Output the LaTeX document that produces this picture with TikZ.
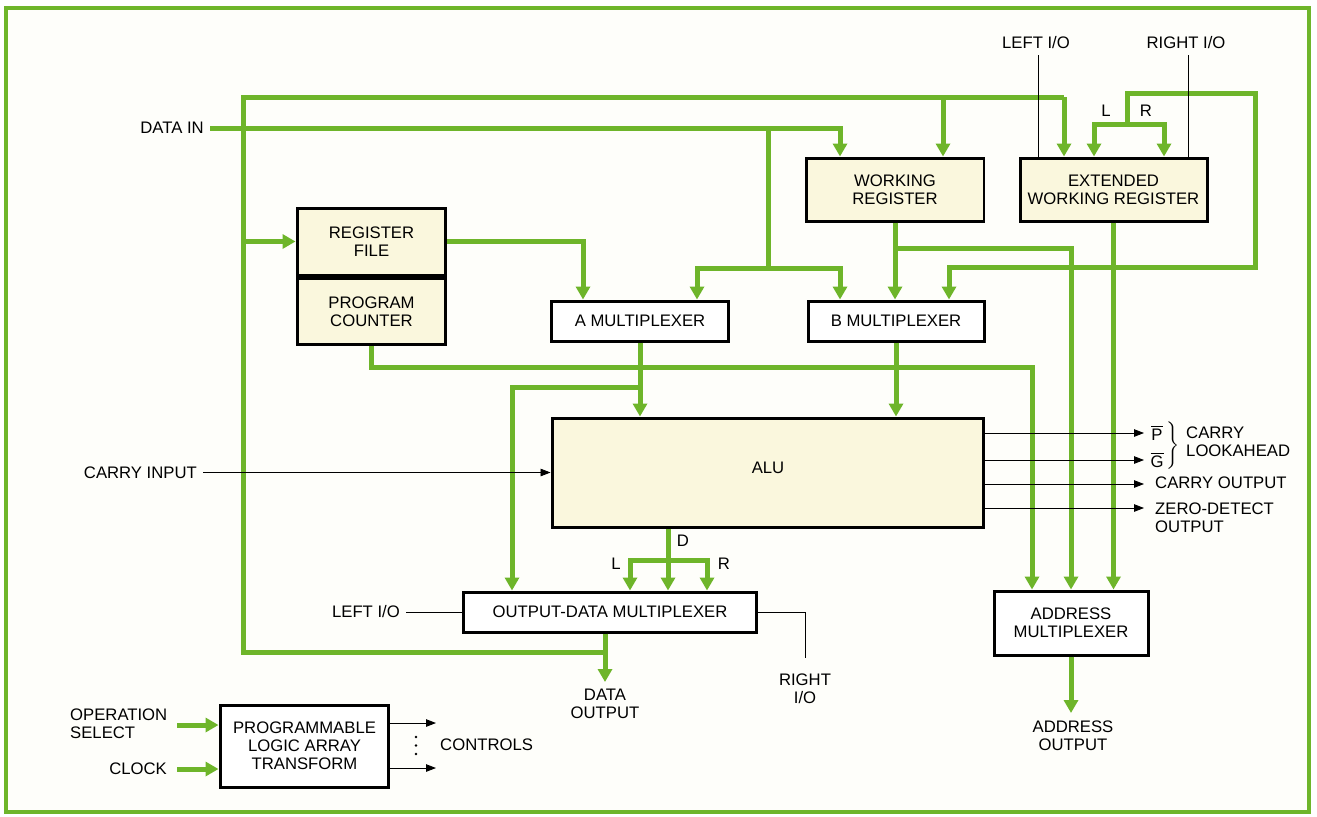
\documentclass[tikz,border=0pt]{standalone}
\usepackage{amsmath}
\usepackage{fontspec}
\setmainfont{Liberation Sans}
\usepackage{xcolor}
\usetikzlibrary{arrows.meta, positioning}

\definecolor{busgreen}{RGB}{110,181,42}
\definecolor{cream}{RGB}{250,247,221}
\definecolor{paper}{RGB}{254,254,250}

\begin{document}
\begin{tikzpicture}[
            x=0.02cm, y=-0.02cm,
            font=\fontsize{9.5}{10.2}\selectfont,
            reg_box/.style={
                draw, line width=0.06cm, fill=cream,
                inner sep=0pt, align=center
            },
            mux_box/.style={
                draw, line width=0.06cm, fill=white,
                inner sep=0pt, align=center
            },
            bus/.style={draw=busgreen, line width=0.1cm},
            bus_arrow/.style={bus, -{Triangle[length=0.26cm, width=0.28cm]}},
            wire/.style={draw=black, line width=0.5pt},
            wire_arrow/.style={wire, -{Triangle[length=0.2cm, width=0.15cm]}}
        ]
            \useasboundingbox (0,0) rectangle (1317,816);
            \draw[draw=busgreen, line width=0.08cm, fill=paper] (6,8) rectangle (1309,812);

            % Blocos
            \node[reg_box, minimum width=2.98cm, minimum height=1.34cm] (rf) at (371.5,241.5) {REGISTER\\FILE};
            \node[reg_box, minimum width=2.98cm, minimum height=1.34cm, below=0cm of rf] (pc) {PROGRAM\\COUNTER};
            \node[reg_box, minimum width=3.56cm, minimum height=1.26cm] (wr) at (895,189.5) {WORKING\\REGISTER};
            \node[reg_box, minimum width=3.74cm, minimum height=1.26cm] (ewr) at (1113.5,189.5) {EXTENDED\\WORKING REGISTER};
            \node[mux_box, minimum width=3.56cm, minimum height=0.8cm] (amux) at (640,321) {A MULTIPLEXER};
            \node[mux_box, minimum width=3.52cm, minimum height=0.8cm] (bmux) at (896,321) {B MULTIPLEXER};
            \node[reg_box, minimum width=8.64cm, minimum height=2.18cm] (alu) at (768,472.5) {\raisebox{0.2cm}{ALU}};
            \node[mux_box, minimum width=5.88cm, minimum height=0.8cm] (odm) at (610,612) {OUTPUT-DATA MULTIPLEXER};
            \node[mux_box, minimum width=3.08cm, minimum height=1.28cm] (am) at (1071,623) {ADDRESS\\MULTIPLEXER};
            \node[mux_box, minimum width=3.38cm, minimum height=1.64cm] (pla) at (304.5,746) {PROGRAMMABLE\\LOGIC ARRAY\\TRANSFORM};

            % Pontos dos barramentos
            \coordinate (left_top) at (243,97);
            \coordinate (left_bot) at (243,652);
            \coordinate (dout_join) at (605,652);
            \coordinate (top_end) at (1064,97);
            \coordinate (wr_drop) at (943,97);
            \coordinate (din_end) at (840,128);
            \coordinate (din_split) at (768,128);
            \coordinate (din_low) at (768,268);
            \coordinate (a_din) at (697,268);
            \coordinate (rf_to_a) at (583,241.5);
            \coordinate (pc_path) at (1032,367);
            \coordinate (a_split) at (640,387);
            \coordinate (odm_in) at (512,387);
            \coordinate (wr_split) at (895,248);
            \coordinate (lr_top) at (1127,93);
            \coordinate (lr_mid) at (1127,124);
            \coordinate (loop_right) at (1255,267);
            \coordinate (b_loop) at (949,267);
            \coordinate (l_in) at (1094,124);
            \coordinate (r_in) at (1164,124);
            \coordinate (d_split) at (668,560);
            \coordinate (l_out) at (630,560);
            \coordinate (r_out) at (707,560);
            \coordinate (dout) at (605,682);
            \coordinate (addr_out) at (1071,713);

            % --- Barramento de retorno ---
            \draw[bus] (dout_join) -- (left_bot) -- (left_top) -- (top_end);
            \draw[bus_arrow] (top_end) -- (ewr.north -| top_end);
            \draw[bus_arrow] (wr_drop) -- (wr.north -| wr_drop);
            \draw[bus_arrow] (rf.west -| left_top) -- (rf.west);

            % --- Data in ---
            \node[anchor=east] (din) at (210,128) {DATA IN};
            \draw[bus_arrow] (din.east) -| (wr.north -| din_end);
            \draw[bus] (din_split) -- (din_low);
            \draw[bus_arrow] (din_low) -| (amux.north -| a_din);
            \draw[bus_arrow] (din_low) -| (bmux.north -| din_end);

            % --- Registos e multiplexadores ---
            \draw[bus_arrow] (rf.east) -| (amux.north -| rf_to_a);
            \draw[bus_arrow] (pc.south) |- (pc_path) -- (am.north -| pc_path);
            \draw[bus_arrow] (amux.south) -- (alu.north -| amux.south);
            \draw[bus_arrow] (a_split) -| (odm.north -| odm_in);
            \draw[bus_arrow] (bmux.south) -- (alu.north -| bmux.south);
            \draw[bus_arrow] (wr.south) -- (bmux.north -| wr.south);
            \draw[bus_arrow] (wr_split) -| (am.north);
            \draw[bus_arrow] (ewr.south) -- (am.north -| ewr.south);

            % --- Deslocamento L/R ---
            \draw[bus_arrow] (lr_mid) -- (lr_top) -| (loop_right) -- (b_loop) -- (bmux.north -| b_loop);
            \draw[bus_arrow] (lr_mid) -- (l_in) -- (ewr.north -| l_in);
            \draw[bus_arrow] (lr_mid) -- (r_in) -- (ewr.north -| r_in);
            \node (lbl_l) at (1106,111) {L};
            \node (lbl_r) at (1146,111) {R};
            \node (lio_top) at (1036,43) {LEFT I/O};
            \node (rio_top) at (1186,43) {RIGHT I/O};
            \draw[wire] (lio_top.south -| 1038,0) -- (ewr.north -| 1038,0);
            \draw[wire] (rio_top.south -| 1188,0) -- (ewr.north -| 1188,0);

            % --- ALU ---
            \node[anchor=east] (cin) at (203,472.5) {CARRY INPUT};
            \draw[wire_arrow] (cin.east) -- (alu.west);
            \foreach \yy [count=\i] in {433,460,484,508} {
                \coordinate (o\i) at (1144,\yy);
                \draw[wire_arrow] (alu.east |- o\i) -- (o\i);
            }
            \node (pbar) at (1157,433) {$\overline{\mbox{P}}$};
            \node (gbar) at (1157,460) {$\overline{\mbox{G}}$};
            \node (brace) at (1172,446) {$\left.\rule[-0.4cm]{0pt}{0.8cm}\right\}$};
            \node[anchor=west, align=left] (cla) at (1180,442) {CARRY\\LOOKAHEAD};
            \node[anchor=west] (cout) at (1149,483) {CARRY OUTPUT};
            \node[anchor=west, align=left] (zdo) at (1149,518) {ZERO-DETECT\\OUTPUT};

            \draw[bus_arrow] (alu.south -| d_split) -- (odm.north -| d_split);
            \draw[bus_arrow] (d_split) -- (l_out) -- (odm.north -| l_out);
            \draw[bus_arrow] (d_split) -- (r_out) -- (odm.north -| r_out);
            \node (lbl_d) at (683,541) {D};
            \node (lbl_l2) at (616,564) {L};
            \node (lbl_r2) at (724,564) {R};

            % --- Saidas ---
            \node[anchor=east] (lio_bot) at (406,612) {LEFT I/O};
            \draw[wire] (lio_bot.east) -- (odm.west);
            \coordinate (rio_end) at (805,658);
            \draw[wire] (odm.east) -| (rio_end);
            \node[align=center] (rio_bot) at (805,689) {RIGHT\\I/O};
            \draw[bus_arrow] (odm.south -| dout) -- (dout);
            \node[align=center] (dout_lbl) at (605,704) {DATA\\OUTPUT};
            \draw[bus_arrow] (am.south) -- (addr_out);
            \node[align=center] (aout_lbl) at (1073,736) {ADDRESS\\OUTPUT};

            % --- PLA ---
            \coordinate (op_in) at (177,725);
            \coordinate (clk_in) at (177,769);
            \coordinate (ctl1) at (436,723);
            \coordinate (ctl2) at (436,768);
            \node[anchor=west, align=left] (opsel) at (64,723.5) {OPERATION\\SELECT};
            \node[anchor=east] (clk) at (173,769) {CLOCK};
            \draw[bus_arrow] (op_in) -- (pla.west |- op_in);
            \draw[bus_arrow] (clk_in) -- (pla.west |- clk_in);
            \draw[wire_arrow] (pla.east |- ctl1) -- (ctl1);
            \draw[wire_arrow] (pla.east |- ctl2) -- (ctl2);
            \foreach \yy in {737,745.5,754}
                \fill (416,\yy) circle (1.3);
            \node[anchor=west] (ctl) at (434,745) {CONTROLS};

        \end{tikzpicture}
\end{document}
